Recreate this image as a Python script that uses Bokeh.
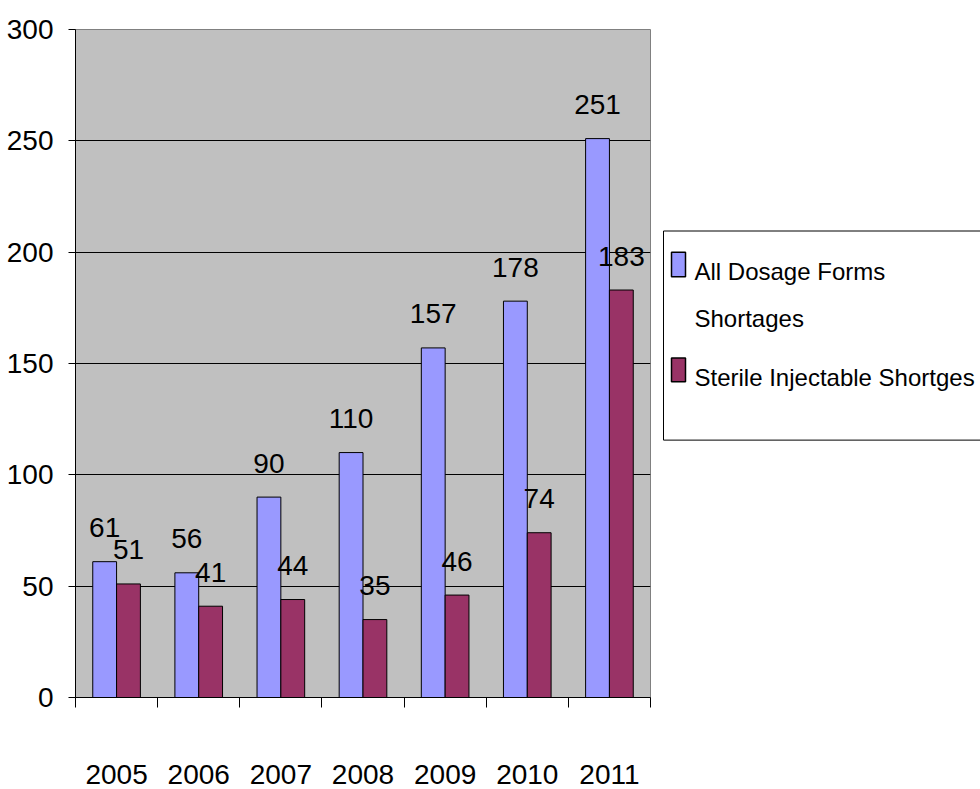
from bokeh.plotting import figure
from bokeh.models import Range1d, FixedTicker, ColumnDataSource
from bokeh.layouts import row
from bokeh.core.properties import value
from bokeh.embed import file_html
from bokeh.resources import INLINE

years = ["2005", "2006", "2007", "2008", "2009", "2010", "2011"]
all_forms = [61, 56, 90, 110, 157, 178, 251]
sterile = [51, 41, 44, 35, 46, 74, 183]
series_names = ["All Dosage Forms\nShortages", "Sterile Injectable Shortges"]
y_ticks = [0, 50, 100, 150, 200, 250, 300]

BLUE = "#9999ff"
MAROON = "#993366"
BG = "#c0c0c0"
FONT = "Liberation Sans"
FS = "28px"
LEG_FS = "24px"

H = 789
bar_w = 0.29
centers = [i + 0.5 for i in range(len(years))]

src = ColumnDataSource(dict(
    xa=[c - bar_w / 2 for c in centers],
    xs=[c + bar_w / 2 for c in centers],
    a=all_forms, s=sterile,
    la=[str(v) for v in all_forms], ls=[str(v) for v in sterile],
))

p = figure(width=660, height=H, output_backend="svg", toolbar_location=None,
           x_range=Range1d(0, len(years)), y_range=Range1d(0, 300),
           min_border_left=75, min_border_top=29, min_border_bottom=92,
           min_border_right=10)
p.background_fill_color = BG
p.border_fill_color = "white"
p.outline_line_color = "#808080"
p.outline_line_width = 1

p.vbar(x="xa", top="a", width=bar_w, bottom=0, source=src,
       fill_color=BLUE, line_color="black", line_width=1)
p.vbar(x="xs", top="s", width=bar_w, bottom=0, source=src,
       fill_color=MAROON, line_color="black", line_width=1)

p.text(x="xa", y="a", text="la", source=src, text_align="center",
       text_baseline="alphabetic", y_offset=-34, text_font=value(FONT),
       text_font_size=FS, text_color="black")
p.text(x="xs", y="s", text="ls", source=src, text_align="center",
       text_baseline="alphabetic", y_offset=-34, text_font=value(FONT),
       text_font_size=FS, text_color="black")

# y axis
ya = p.yaxis[0]
ya.ticker = FixedTicker(ticks=y_ticks)
ya.axis_line_color = "black"
ya.major_tick_out = 7
ya.major_tick_in = 0
ya.minor_tick_line_color = None
ya.major_label_standoff = 15
ya.major_label_text_font = FONT
ya.major_label_text_font_size = FS
ya.major_label_text_color = "black"

# x axis: labels at centers, ticks at boundaries
xa = p.xaxis[0]
xa.ticker = FixedTicker(ticks=centers, minor_ticks=list(range(len(years) + 1)))
xa.major_label_overrides = {c: y for c, y in zip(centers, years)}
xa.major_tick_out = 0
xa.major_tick_in = 0
xa.major_tick_line_color = None
xa.minor_tick_out = 10
xa.minor_tick_in = 0
xa.minor_tick_line_color = "black"
xa.axis_line_color = "black"
xa.major_label_standoff = 57
xa.major_label_text_font = FONT
xa.major_label_text_font_size = FS
xa.major_label_text_color = "black"

p.xgrid.visible = False
p.ygrid.ticker = FixedTicker(ticks=y_ticks[1:-1])
p.ygrid.grid_line_color = "black"
p.ygrid.grid_line_width = 1

# legend panel (drawn in pixel-like coordinates)
LW = 320
leg = figure(width=LW, height=H, output_backend="svg", toolbar_location=None,
             x_range=Range1d(0, LW), y_range=Range1d(H, 0),
             min_border=0)
leg.axis.visible = False
leg.grid.visible = False
leg.outline_line_color = None
leg.background_fill_color = "white"
leg.border_fill_color = "white"

box_left, box_top, box_bottom = 3, 238, 485
leg.quad(left=[box_left], right=[LW + 100], top=[box_top], bottom=[box_bottom],
         fill_color=None, line_color="black", line_width=1)

sw_left, sw_w = 11, 14
entry_tops = [263, 388]
entry_bottoms = [292, 416]
colors = [BLUE, MAROON]
line_gap = 55
text_x = 34
for name, top, bot, col in zip(series_names, entry_tops, entry_bottoms, colors):
    leg.quad(left=[sw_left], right=[sw_left + sw_w], top=[top], bottom=[bot],
             fill_color=col, line_color="black", line_width=1.5)
    lines = name.split("\n")
    base = (top + bot) / 2 + 8.6
    leg.text(x=[text_x] * len(lines), y=[base + i * line_gap for i in range(len(lines))],
             text=lines, text_align="left", text_baseline="alphabetic",
             text_font=value(FONT), text_font_size=LEG_FS, text_color="black")

layout = row(p, leg)
open("out.html", "w").write(file_html(layout, INLINE))
